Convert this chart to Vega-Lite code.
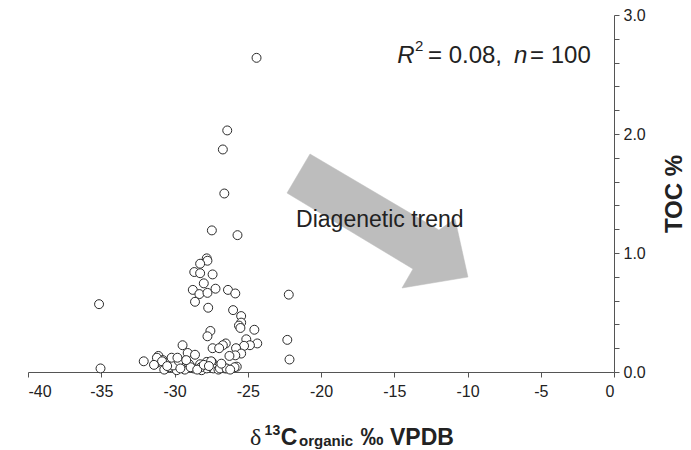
{
  "$schema": "https://vega.github.io/schema/vega-lite/v6.json",
  "autosize": {"type": "none"},
  "width": 586,
  "height": 357,
  "padding": {"left": 28, "top": 15, "right": 77, "bottom": 78},
  "background": "white",
  "config": {
    "view": {"stroke": null},
    "font": "Liberation Sans",
    "axis": {"grid": false, "domainColor": "#555555", "tickColor": "#555555", "labelColor": "#222222", "labelFont": "Liberation Sans", "labelFontSize": 16, "tickSize": 5, "titleColor": "#222222", "labelOverlap": false}
  },
  "resolve": {"axis": {"y": "independent"}},
  "datasets": {
    "pts": [
      {"d13c": -35.15, "toc": 0.57}, {"d13c": -35.05, "toc": 0.03}, {"d13c": -32.1, "toc": 0.09},
      {"d13c": -24.4, "toc": 2.64}, {"d13c": -26.4, "toc": 2.03}, {"d13c": -26.7, "toc": 1.87},
      {"d13c": -26.6, "toc": 1.5}, {"d13c": -27.45, "toc": 1.19}, {"d13c": -25.7, "toc": 1.15},
      {"d13c": -27.8, "toc": 0.955}, {"d13c": -22.2, "toc": 0.65}, {"d13c": -22.3, "toc": 0.27},
      {"d13c": -22.15, "toc": 0.105},
      {"d13c": -27.75, "toc": 0.935}, {"d13c": -28.25, "toc": 0.91}, {"d13c": -28.65, "toc": 0.84},
      {"d13c": -28.25, "toc": 0.83}, {"d13c": -27.4, "toc": 0.82}, {"d13c": -28.0, "toc": 0.745},
      {"d13c": -28.75, "toc": 0.69}, {"d13c": -28.3, "toc": 0.655}, {"d13c": -27.75, "toc": 0.665},
      {"d13c": -27.2, "toc": 0.7}, {"d13c": -26.35, "toc": 0.69}, {"d13c": -25.85, "toc": 0.66},
      {"d13c": -28.6, "toc": 0.59}, {"d13c": -27.7, "toc": 0.54}, {"d13c": -26.0, "toc": 0.52},
      {"d13c": -25.45, "toc": 0.47},
      {"d13c": -25.45, "toc": 0.415}, {"d13c": -25.6, "toc": 0.39}, {"d13c": -25.5, "toc": 0.37},
      {"d13c": -24.55, "toc": 0.355}, {"d13c": -27.55, "toc": 0.345}, {"d13c": -27.75, "toc": 0.3},
      {"d13c": -25.1, "toc": 0.275}, {"d13c": -24.35, "toc": 0.24}, {"d13c": -24.85, "toc": 0.225},
      {"d13c": -26.5, "toc": 0.24}, {"d13c": -26.7, "toc": 0.225}, {"d13c": -27.4, "toc": 0.2},
      {"d13c": -26.95, "toc": 0.2}, {"d13c": -25.25, "toc": 0.22}, {"d13c": -25.8, "toc": 0.2},
      {"d13c": -25.45, "toc": 0.155}, {"d13c": -25.85, "toc": 0.14}, {"d13c": -26.25, "toc": 0.135},
      {"d13c": -29.45, "toc": 0.225}, {"d13c": -29.1, "toc": 0.16}, {"d13c": -28.6, "toc": 0.145},
      {"d13c": -31.1, "toc": 0.135},
      {"d13c": -31.25, "toc": 0.075}, {"d13c": -31.1, "toc": 0.085}, {"d13c": -30.8, "toc": 0.1},
      {"d13c": -30.65, "toc": 0.075}, {"d13c": -30.7, "toc": 0.02}, {"d13c": -30.35, "toc": 0.04},
      {"d13c": -29.95, "toc": 0.065}, {"d13c": -29.85, "toc": 0.015}, {"d13c": -29.5, "toc": 0.08},
      {"d13c": -29.3, "toc": 0.02}, {"d13c": -29.0, "toc": 0.065}, {"d13c": -28.7, "toc": 0.03},
      {"d13c": -28.25, "toc": 0.065}, {"d13c": -28.15, "toc": 0.015}, {"d13c": -27.8, "toc": 0.085},
      {"d13c": -27.45, "toc": 0.085}, {"d13c": -27.35, "toc": 0.03}, {"d13c": -27.0, "toc": 0.02},
      {"d13c": -26.55, "toc": 0.03}, {"d13c": -25.75, "toc": 0.045}, {"d13c": -27.8, "toc": 0.03},
      {"d13c": -31.2, "toc": 0.12}, {"d13c": -30.85, "toc": 0.09}, {"d13c": -30.1, "toc": 0.055},
      {"d13c": -29.7, "toc": 0.09}, {"d13c": -28.9, "toc": 0.04}, {"d13c": -28.2, "toc": 0.04},
      {"d13c": -27.5, "toc": 0.09}, {"d13c": -26.9, "toc": 0.03}, {"d13c": -26.45, "toc": 0.03},
      {"d13c": -25.9, "toc": 0.04}, {"d13c": -30.5, "toc": 0.05}, {"d13c": -29.6, "toc": 0.03},
      {"d13c": -29.2, "toc": 0.1}, {"d13c": -28.45, "toc": 0.02}, {"d13c": -28.0, "toc": 0.06},
      {"d13c": -27.65, "toc": 0.05}, {"d13c": -26.8, "toc": 0.07}, {"d13c": -26.2, "toc": 0.02},
      {"d13c": -30.2, "toc": 0.12}, {"d13c": -31.4, "toc": 0.06}, {"d13c": -29.8, "toc": 0.12}
    ],
    "arrow": [
      {"i": 1, "x": -20.75, "y": 1.832}, {"i": 2, "x": -11.95, "y": 1.193}, {"i": 3, "x": -10.85, "y": 1.286},
      {"i": 4, "x": -9.97, "y": 0.798}, {"i": 5, "x": -14.47, "y": 0.706}, {"i": 6, "x": -13.72, "y": 0.866},
      {"i": 7, "x": -22.32, "y": 1.504}, {"i": 8, "x": -20.75, "y": 1.832}
    ]
  },
  "layer": [
    {
      "data": {"name": "arrow"},
      "mark": {"type": "line", "fill": "#bdbdbd", "stroke": "#bdbdbd", "strokeWidth": 0.5, "interpolate": "linear"},
      "encoding": {
        "x": {"field": "x", "type": "quantitative", "scale": {"domain": [-40, 0], "nice": false, "zero": false},
          "axis": {"values": [-40, -35, -30, -25, -20, -15, -10, -5, 0], "labelExpr": "'' + datum.value", "title": null, "labelPadding": 6, "labelOverlap": false}},
        "y": {"field": "y", "type": "quantitative", "scale": {"domain": [0, 3], "nice": false},
          "axis": {"orient": "right", "values": [0, 1, 2, 3], "format": ".1f",
            "labelOverlap": false, "labelBound": false,
            "labelPadding": 4, "title": "TOC %", "titleAngle": 270, "titleBaseline": "top", "titleFontSize": 24, "titleFontWeight": "bold", "titlePadding": 17, "titleFont": "Liberation Sans"}},
        "order": {"field": "i", "type": "quantitative"}
      }
    },
    {
      "data": {"name": "pts"},
      "mark": {"type": "point", "shape": "circle", "filled": false, "fill": "white", "stroke": "#2a2a2a", "strokeWidth": 1, "size": 80, "opacity": 1},
      "encoding": {
        "x": {"field": "d13c", "type": "quantitative"},
        "y": {"field": "toc", "type": "quantitative",
          "axis": {"orient": "right", "values": [0.2, 0.4, 0.6, 0.8, 1.2, 1.4, 1.6, 1.8, 2.2, 2.4, 2.6, 2.8], "labels": false, "domain": false, "title": null}}
      }
    },
    {
      "data": {"values": [{"x": -21.7, "y": 1.22, "t": "Diagenetic trend"}]},
      "mark": {"type": "text", "align": "left", "baseline": "alphabetic", "fontSize": 23, "color": "#222222", "font": "Liberation Sans"},
      "encoding": {"x": {"field": "x", "type": "quantitative"}, "y": {"field": "y", "type": "quantitative", "axis": null}, "text": {"field": "t"}}
    },
    {
      "data": {"values": [{"x": -14.8, "y": 2.6, "t": "R"}]},
      "mark": {"type": "text", "align": "left", "baseline": "alphabetic", "fontSize": 24, "fontStyle": "italic", "color": "#222222", "font": "Liberation Sans"},
      "encoding": {"x": {"field": "x", "type": "quantitative"}, "y": {"field": "y", "type": "quantitative", "axis": null}, "text": {"field": "t"}}
    },
    {
      "data": {"values": [{"x": -13.58, "y": 2.7, "t": "2"}]},
      "mark": {"type": "text", "align": "left", "baseline": "alphabetic", "fontSize": 15, "color": "#222222", "font": "Liberation Sans"},
      "encoding": {"x": {"field": "x", "type": "quantitative"}, "y": {"field": "y", "type": "quantitative", "axis": null}, "text": {"field": "t"}}
    },
    {
      "data": {"values": [{"x": -12.7, "y": 2.6, "t": "= 0.08,"}]},
      "mark": {"type": "text", "align": "left", "baseline": "alphabetic", "fontSize": 24, "color": "#222222", "font": "Liberation Sans"},
      "encoding": {"x": {"field": "x", "type": "quantitative"}, "y": {"field": "y", "type": "quantitative", "axis": null}, "text": {"field": "t"}}
    },
    {
      "data": {"values": [{"x": -6.83, "y": 2.6, "t": "n"}]},
      "mark": {"type": "text", "align": "left", "baseline": "alphabetic", "fontSize": 24, "fontStyle": "italic", "color": "#222222", "font": "Liberation Sans"},
      "encoding": {"x": {"field": "x", "type": "quantitative"}, "y": {"field": "y", "type": "quantitative", "axis": null}, "text": {"field": "t"}}
    },
    {
      "data": {"values": [{"x": -5.73, "y": 2.6, "t": "= 100"}]},
      "mark": {"type": "text", "align": "left", "baseline": "alphabetic", "fontSize": 24, "color": "#222222", "font": "Liberation Sans"},
      "encoding": {"x": {"field": "x", "type": "quantitative"}, "y": {"field": "y", "type": "quantitative", "axis": null}, "text": {"field": "t"}}
    },
    {
      "data": {"values": [{"x": -24.85, "y": -0.61, "t": "δ"}]},
      "mark": {"type": "text", "align": "left", "baseline": "alphabetic", "fontSize": 24, "color": "#222222", "font": "Liberation Serif"},
      "encoding": {"x": {"field": "x", "type": "quantitative"}, "y": {"field": "y", "type": "quantitative", "axis": null}, "text": {"field": "t"}}
    },
    {
      "data": {"values": [{"x": -23.85, "y": -0.53, "t": "13"}]},
      "mark": {"type": "text", "align": "left", "baseline": "alphabetic", "fontSize": 14, "fontWeight": "bold", "color": "#222222", "font": "Liberation Sans"},
      "encoding": {"x": {"field": "x", "type": "quantitative"}, "y": {"field": "y", "type": "quantitative", "axis": null}, "text": {"field": "t"}}
    },
    {
      "data": {"values": [{"x": -22.75, "y": -0.61, "t": "C"}]},
      "mark": {"type": "text", "align": "left", "baseline": "alphabetic", "fontSize": 23, "fontWeight": "bold", "color": "#222222", "font": "Liberation Sans"},
      "encoding": {"x": {"field": "x", "type": "quantitative"}, "y": {"field": "y", "type": "quantitative", "axis": null}, "text": {"field": "t"}}
    },
    {
      "data": {"values": [{"x": -21.5, "y": -0.625, "t": "organic"}]},
      "mark": {"type": "text", "align": "left", "baseline": "alphabetic", "fontSize": 15, "fontWeight": "bold", "color": "#222222", "font": "Liberation Sans"},
      "encoding": {"x": {"field": "x", "type": "quantitative"}, "y": {"field": "y", "type": "quantitative", "axis": null}, "text": {"field": "t"}}
    },
    {
      "data": {"values": [{"x": -17.3, "y": -0.61, "t": "‰ VPDB"}]},
      "mark": {"type": "text", "align": "left", "baseline": "alphabetic", "fontSize": 23, "fontWeight": "bold", "color": "#222222", "font": "Liberation Sans"},
      "encoding": {"x": {"field": "x", "type": "quantitative"}, "y": {"field": "y", "type": "quantitative", "axis": null}, "text": {"field": "t"}}
    }
  ]
}
